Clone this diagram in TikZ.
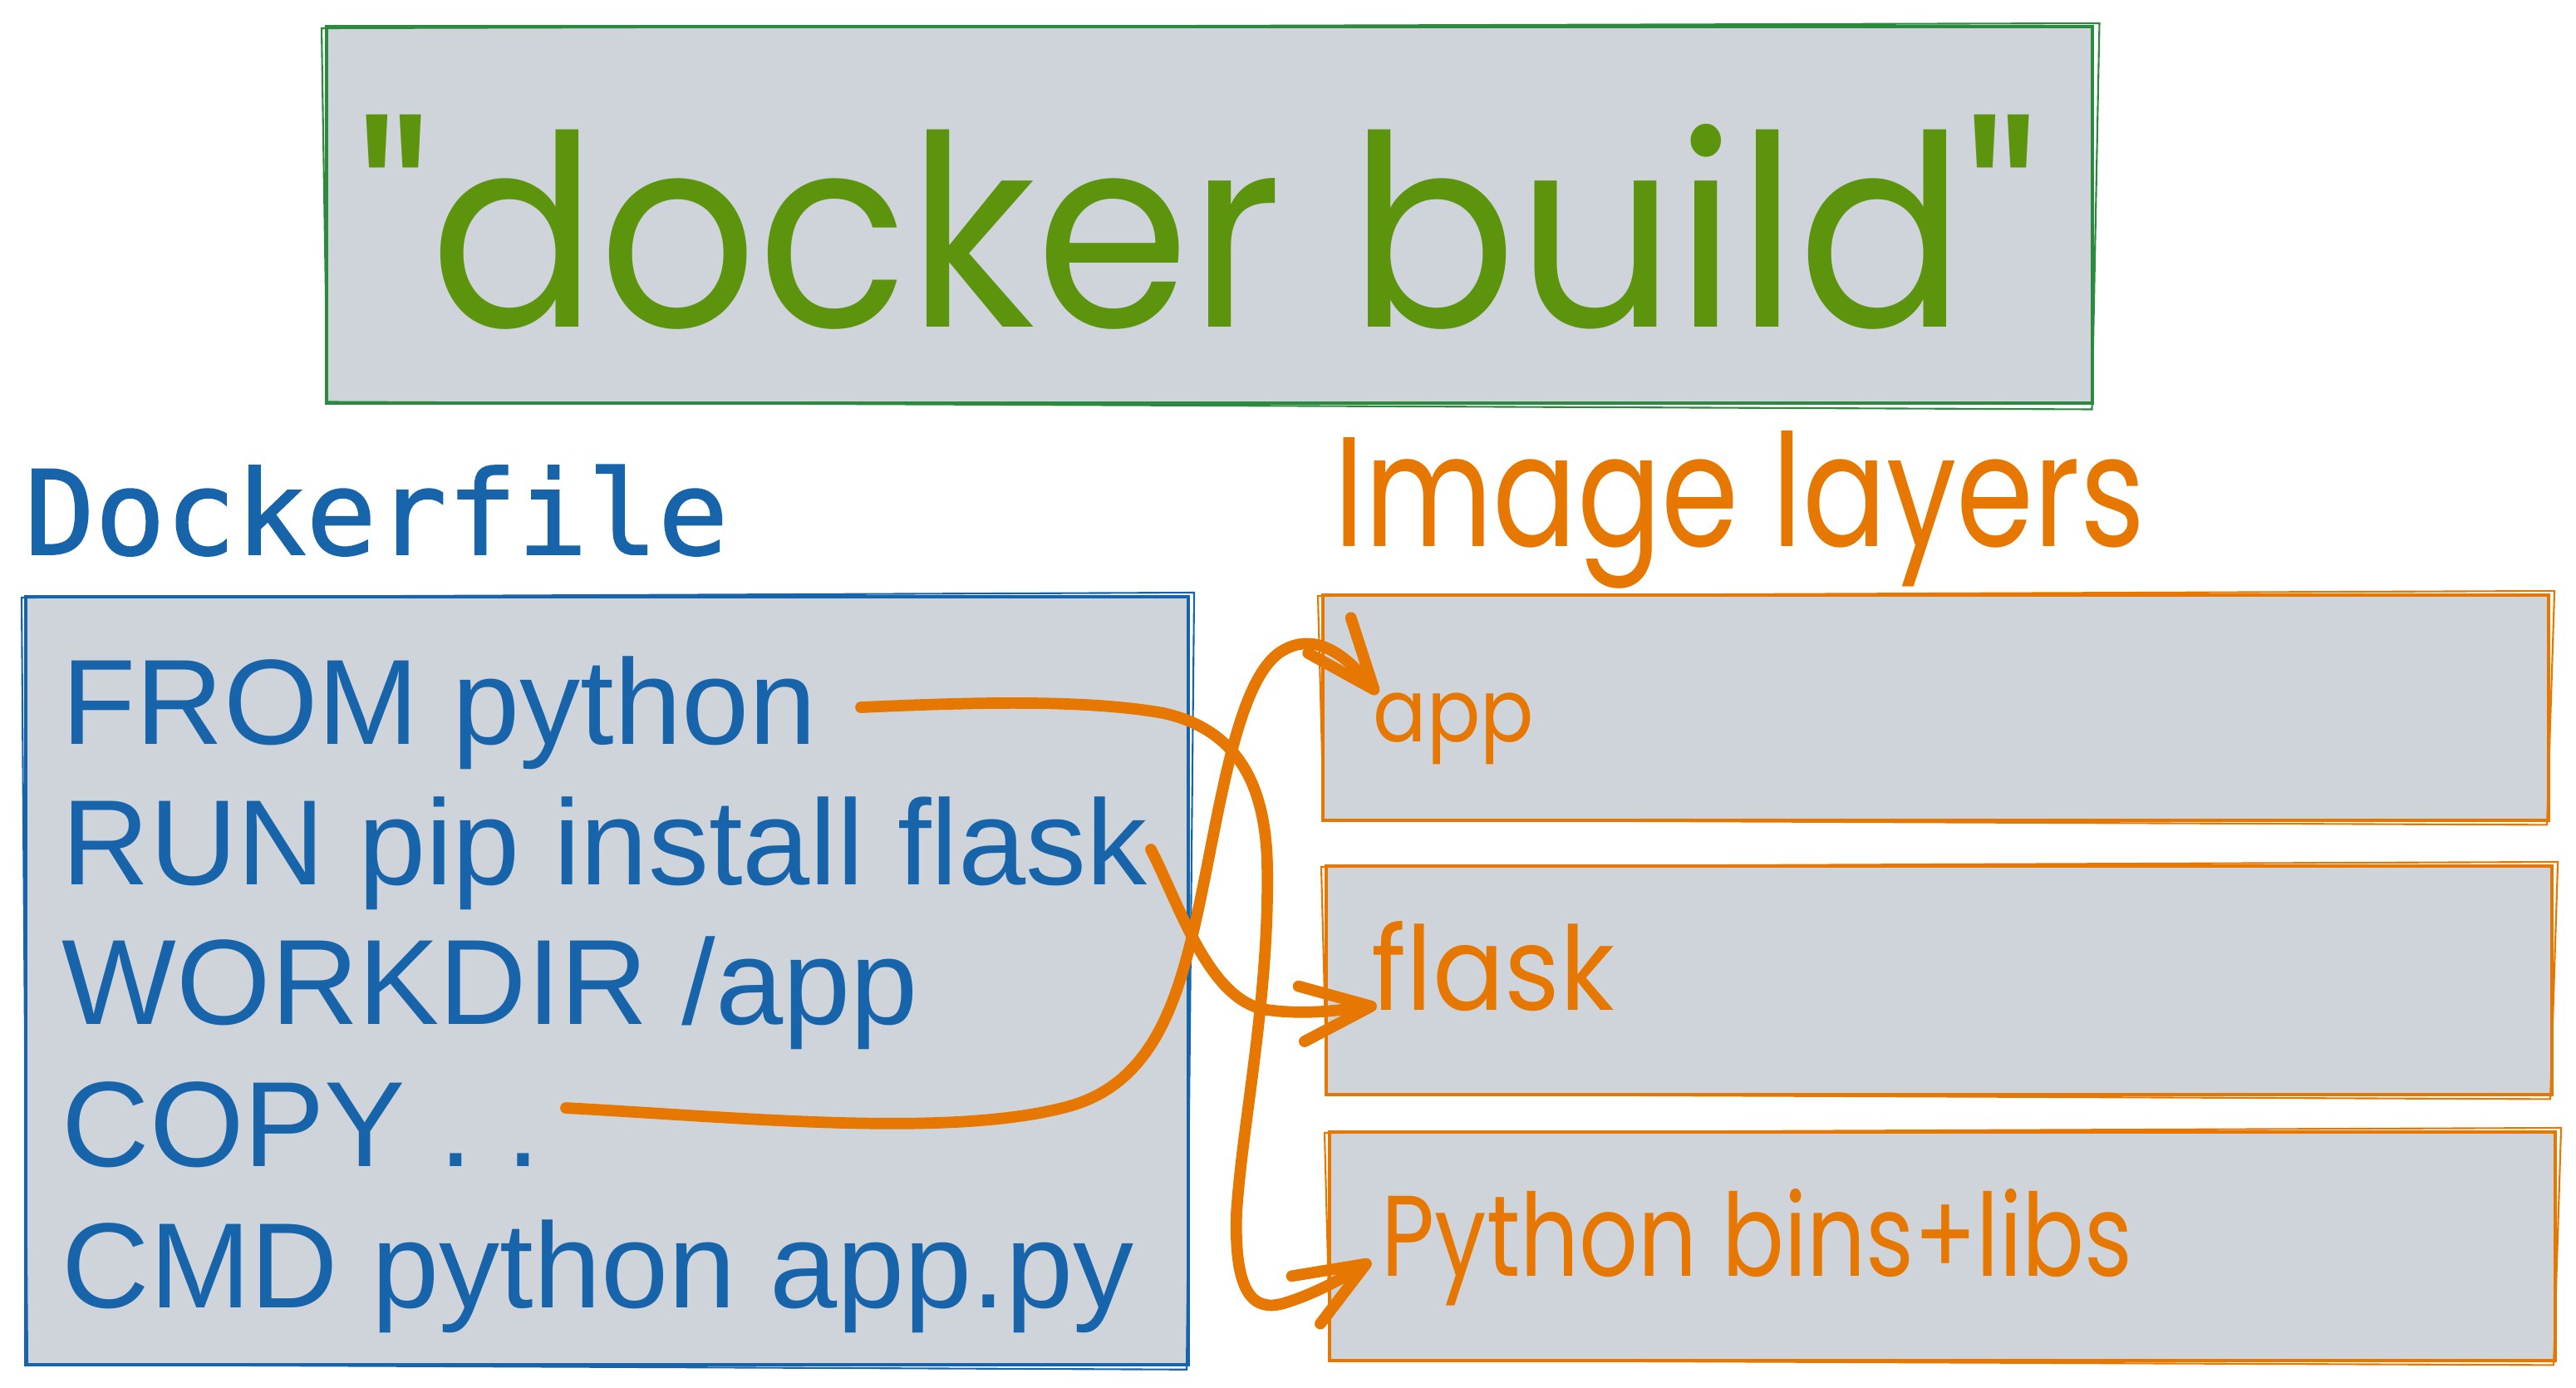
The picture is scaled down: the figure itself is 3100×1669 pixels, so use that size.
\documentclass[tikz,border=0pt]{standalone}
\usepackage{fontspec}
\usepackage{graphicx}
\setmainfont{Liberation Sans}
\newfontfamily\hand{Poppins}
\newfontfamily\monof[FakeBold=1.3]{DejaVu Sans Mono}
\usetikzlibrary{arrows.meta,calc}
\definecolor{fillgray}{HTML}{CED4DA}
\definecolor{boxgreen}{HTML}{2B8A3E}
\definecolor{titlegreen}{HTML}{5C940D}
\definecolor{dblue}{HTML}{1864AB}
\definecolor{lorange}{HTML}{E67700}
\begin{document}
\begin{tikzpicture}[x=0.01cm,y=-0.01cm,
  box/.style={draw, line width=1.2pt, fill=fillgray, inner sep=0, anchor=north west},
  sk/.style={line width=0.6pt},
  dline/.style={anchor=base west, inner sep=0, text=dblue, font=\fontsize{41.5}{48}\selectfont},
  hlabel/.style={anchor=base west, inner sep=0, text=lorange},
  conn/.style={draw=lorange, line width=3.9pt, line cap=round, line join=round,
    -{Straight Barb[length=24pt,width=19pt,round]}}]
\useasboundingbox[fill=white] (0,0) rectangle (3100,1669);

% title box
\node[box, draw=boxgreen, minimum width=21.24cm, minimum height=4.53cm] (tbox) at (391,30) {};
\draw[sk, boxgreen] ([shift={(-4,4)}]tbox.north west) -- ([shift={(6,-2)}]tbox.north east)
  -- ([shift={(-3,5)}]tbox.south east) -- ([shift={(3,-4)}]tbox.south west) -- cycle;
\node[anchor=base west, inner sep=0, text=titlegreen] (title) at (430,393)
  {\resizebox{20.2cm}{2.55cm}{\hand "docker build"}};

% Dockerfile
\node[anchor=base west, inner sep=0, text=dblue, font=\monof\fontsize{40}{48}\selectfont] (dfh) at (29,667) {Dockerfile};
\node[box, draw=dblue, minimum width=13.98cm, minimum height=9.23cm] (dbox) at (29,716) {};
\draw[sk, dblue] ([shift={(-3,3)}]dbox.north west) -- ([shift={(5,-3)}]dbox.north east)
  -- ([shift={(-4,4)}]dbox.south east) -- ([shift={(4,-2)}]dbox.south west) -- cycle;
\node[dline] (l1) at (74,895) {FROM python};
\node[dline] (l2) at (74,1064) {RUN pip install flask};
\node[dline] (l3) at (74,1232) {WORKDIR /app};
\node[dline] (l4) at (74,1403) {COPY . .};
\node[dline] (l5) at (74,1573) {CMD python app.py};

% Image layers
\node[hlabel] (ilh) at (1605,657) {\resizebox{9.75cm}{1.39cm}{\hand Image layers}};
\node[box, draw=lorange, minimum width=14.74cm, minimum height=2.71cm] (bapp) at (1590,714) {};
\node[box, draw=lorange, minimum width=14.74cm, minimum height=2.75cm] (bflask) at (1594,1040) {};
\node[box, draw=lorange, minimum width=14.74cm, minimum height=2.75cm] (bpy) at (1598,1360) {};
\foreach \b in {bapp,bflask,bpy}{
  \draw[sk, lorange] ([shift={(-4,3)}]\b.north west) -- ([shift={(5,-3)}]\b.north east)
    -- ([shift={(-4,3)}]\b.south east) -- ([shift={(3,-3)}]\b.south west) -- cycle;
}
\node[hlabel] (lapp) at (1652,892) {\resizebox*{1.93cm}{0.86cm}{\hand app}};
\node[hlabel] (lflask) at (1650,1215) {\resizebox{2.92cm}{1.07cm}{\hand flask}};
\node[hlabel] (lpy) at (1662,1535) {\resizebox{9.03cm}{1.05cm}{\hand Python bins+libs}};

% connectors
\coordinate (sFROM) at (1036,851);
\coordinate (sRUN) at (1385,1022);
\coordinate (sCOPY) at (681,1333);
\coordinate (tApp) at (1658,835);
\coordinate (tFlask) at (1657,1210);
\coordinate (tPy) at (1650,1517);

\draw[conn] (sFROM) .. controls (1150,846) and (1300,840) .. (1400,858)
  .. controls (1500,880) and (1523,960) .. (1525,1040)
  .. controls (1528,1200) and (1495,1350) .. (1488,1460)
  .. controls (1485,1560) and (1510,1578) .. (1545,1568)
  .. controls (1585,1556) and (1620,1535) .. (tPy);
\draw[conn] (sRUN) .. controls (1420,1090) and (1455,1205) .. (1525,1215)
  .. controls (1575,1222) and (1620,1214) .. (tFlask);
\draw[conn] (sCOPY) .. controls (900,1345) and (1150,1370) .. (1290,1330)
  .. controls (1390,1300) and (1420,1200) .. (1445,1080)
  .. controls (1470,960) and (1490,820) .. (1540,785)
  .. controls (1585,755) and (1625,795) .. (tApp);
\end{tikzpicture}
\end{document}
